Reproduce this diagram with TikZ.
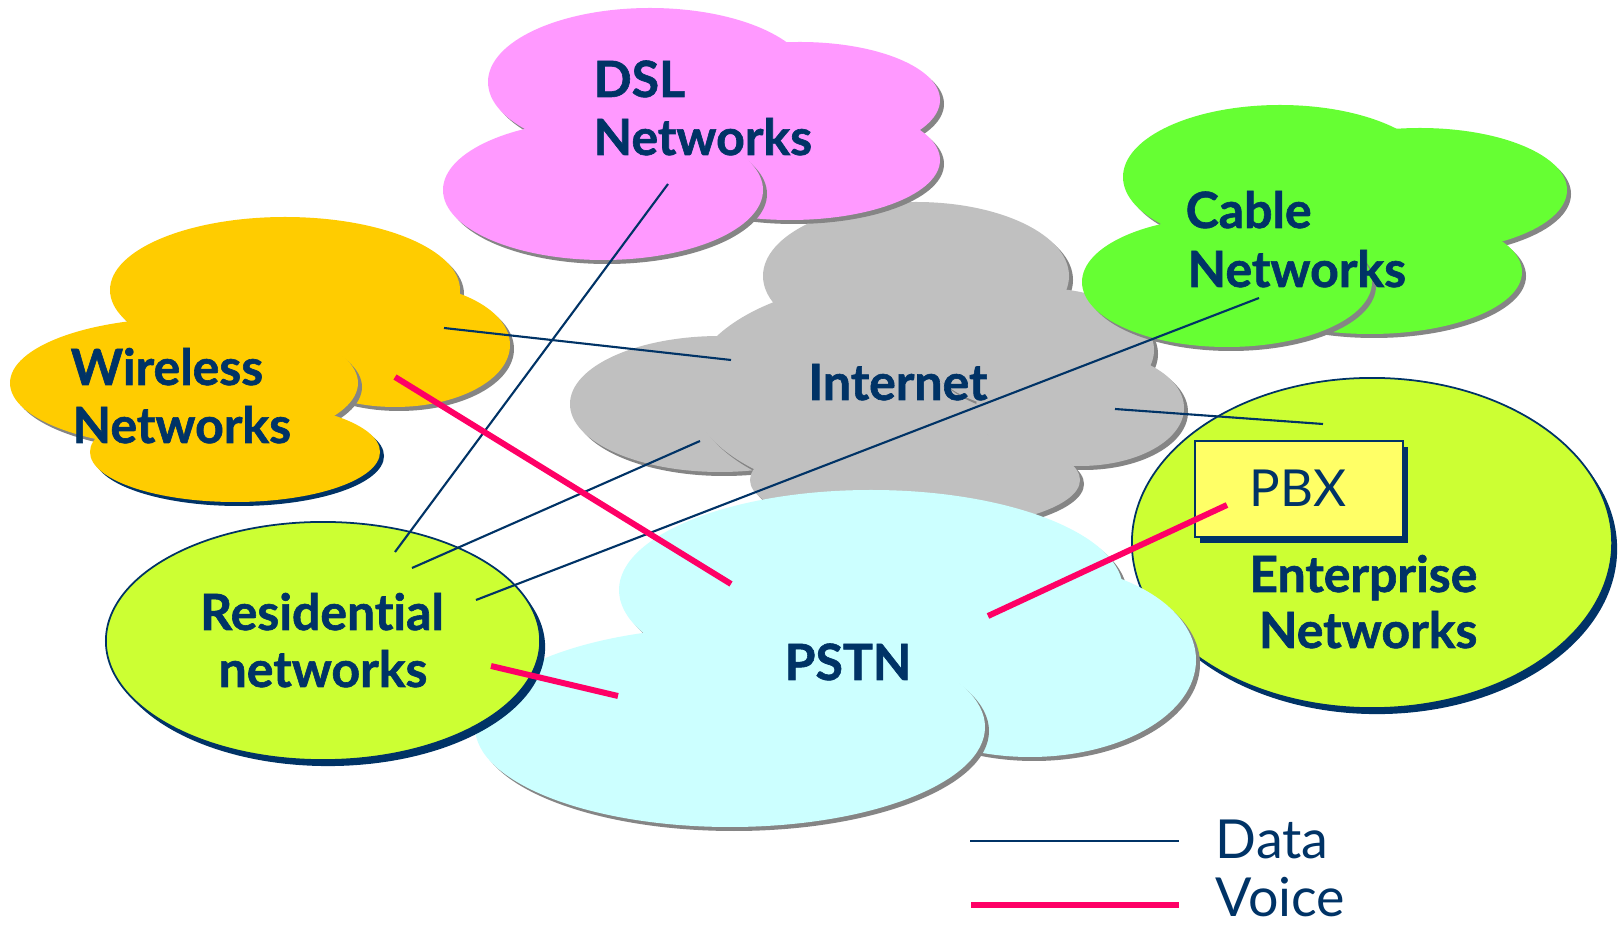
\documentclass[tikz,border=0pt]{standalone}
\usepackage{fontspec}
\setmainfont{Lato}[Ligatures={NoCommon}, BoldFeatures={FakeBold=1.2}]
\definecolor{navy}{HTML}{003366}
\definecolor{voicepink}{HTML}{FF0066}
\definecolor{dslpink}{HTML}{FF99FF}
\definecolor{wirelessyellow}{HTML}{FFCC00}
\definecolor{cablegreen}{HTML}{66FF33}
\definecolor{internetgray}{HTML}{C0C0C0}
\definecolor{limegreen}{HTML}{CCFF33}
\definecolor{pstncyan}{HTML}{CCFFFF}
\definecolor{pbxyellow}{HTML}{FFFF66}
\definecolor{shadowgray}{HTML}{858585}
\newcommand\cloudlobe[6]{%
  \fill[#2] ({#3+4},{#4+4}) ellipse [x radius={#5*0.01cm}, y radius={#6*0.01cm}];
  \fill[#1] (#3,#4) ellipse [x radius={#5*0.01cm}, y radius={#6*0.01cm}];}
\tikzset{
  boldlbl/.style={inner sep=0pt, text=navy, font=\fontsize{14.2}{17}\selectfont\bfseries},
  reglbl/.style={inner sep=0pt, text=navy, font=\fontsize{14.5}{17}\selectfont},
  legendlbl/.style={inner sep=0pt, text=navy, font=\fontsize{15.3}{18}\selectfont},
  dataline/.style={draw=navy, line width=0.6pt},
  voiceline/.style={draw=voicepink, line width=1.7pt},
  ovalnet/.style={fill=limegreen, draw=navy, line width=0.5pt},
}
\begin{document}
\begin{tikzpicture}[x=0.01cm,y=-0.01cm]
\useasboundingbox (0,0) rectangle (1618,925);
\fill[white] (0,0) rectangle (1618,925);

% Enterprise ellipse
\fill[navy] (1377,549) ellipse [x radius=2.40cm, y radius=1.65cm];
\path[ovalnet] (1372,543) ellipse [x radius=2.40cm, y radius=1.65cm];

% Internet cloud
\cloudlobe{internetgray}{shadowgray}{720}{404}{150}{68}
\cloudlobe{internetgray}{shadowgray}{916}{276}{153}{74}
\cloudlobe{internetgray}{shadowgray}{900}{390}{210}{110}
\cloudlobe{internetgray}{shadowgray}{1040}{350}{114}{62}
\cloudlobe{internetgray}{shadowgray}{1080}{408}{104}{58}
\cloudlobe{internetgray}{shadowgray}{915}{480}{165}{50}

% DSL cloud
\cloudlobe{dslpink}{shadowgray}{650}{82}{162}{74}
\cloudlobe{dslpink}{shadowgray}{800}{100}{140}{58}
\cloudlobe{dslpink}{shadowgray}{790}{160}{150}{60}
\cloudlobe{dslpink}{shadowgray}{603}{190}{160}{70}

% Cable cloud
\cloudlobe{cablegreen}{shadowgray}{1280}{177}{157}{72}
\cloudlobe{cablegreen}{shadowgray}{1420}{190}{147}{62}
\cloudlobe{cablegreen}{shadowgray}{1370}{272}{152}{62}
\cloudlobe{cablegreen}{shadowgray}{1227}{282}{145}{65}

% Wireless cloud
\cloudlobe{wirelessyellow}{shadowgray}{285}{290}{175}{73}
\cloudlobe{wirelessyellow}{shadowgray}{395}{345}{115}{62}
\cloudlobe{wirelessyellow}{shadowgray}{184}{383}{174}{65}
\cloudlobe{wirelessyellow}{navy}{235}{452}{145}{50}

% PSTN cloud
\cloudlobe{pstncyan}{shadowgray}{871}{590}{252}{100}
\cloudlobe{pstncyan}{shadowgray}{1030}{660}{166}{97}
\cloudlobe{pstncyan}{shadowgray}{730}{727}{255}{100}

% Residential ellipse
\fill[navy] (328,647) ellipse [x radius=2.17cm, y radius=1.19cm];
\path[ovalnet] (323,641) ellipse [x radius=2.17cm, y radius=1.19cm];

% PBX box
\fill[navy] (1200,447) rectangle (1408,543);
\path[fill=pbxyellow, draw=navy, line width=0.5pt] (1195,441) rectangle (1403,537);

% connector end points
\coordinate (dslD) at (668,184);
\coordinate (resD1) at (395,552);
\coordinate (wirD) at (444,328);
\coordinate (intW) at (731,360);
\coordinate (intR) at (700,441);
\coordinate (resD2) at (412,568);
\coordinate (cabD) at (1259,298);
\coordinate (resD3) at (476,600);
\coordinate (intE) at (1115,409);
\coordinate (entD) at (1323,424);
\coordinate (wirV) at (395,377);
\coordinate (pstnW) at (731,584);
\coordinate (resV) at (491,666);
\coordinate (pstnR) at (618,696);
\coordinate (pstnE) at (988,616);
\coordinate (pbxV) at (1227,505);
\coordinate (legDa) at (970,841);
\coordinate (legDb) at (1179,841);
\coordinate (legVa) at (971,905);
\coordinate (legVb) at (1179,905);

% data lines
\draw[dataline] (dslD) -- (resD1);
\draw[dataline] (wirD) -- (intW);
\draw[dataline] (intR) -- (resD2);
\draw[dataline] (cabD) -- (resD3);
\draw[dataline] (intE) -- (entD);
% voice lines
\draw[voiceline] (wirV) -- (pstnW);
\draw[voiceline] (resV) -- (pstnR);
\draw[voiceline] (pstnE) -- (pbxV);
% legend
\draw[dataline] (legDa) -- (legDb);
\draw[voiceline] (legVa) -- (legVb);

% labels
\node[boldlbl, anchor=base west] (dslA) at (593,97) {DSL};
\node[boldlbl, anchor=base west] (dslB) at (593,155) {Networks};
\node[boldlbl, anchor=base west] (wirA) at (70,385) {Wireless};
\node[boldlbl, anchor=base west] (wirB) at (72,443) {Networks};
\node[boldlbl, anchor=base west] (cabA) at (1185,228) {Cable};
\node[boldlbl, anchor=base west] (cabB) at (1187,287) {Networks};
\node[boldlbl, anchor=base] (inet) at (898,400) {Internet};
\node[boldlbl, anchor=base east] (entA) at (1478,592) {Enterprise};
\node[boldlbl, anchor=base east] (entB) at (1478,648) {Networks};
\node[boldlbl, anchor=base] (resA) at (322,630) {Residential};
\node[boldlbl, anchor=base] (resB) at (323,687) {networks};
\node[boldlbl, anchor=base] (pstn) at (848,680) {PSTN};
\node[reglbl, anchor=base] (pbx) at (1298,507) {PBX};
\node[legendlbl, anchor=base west] (data) at (1215,858) {Data};
\node[legendlbl, anchor=base west] (voice) at (1215,916) {Voice};
\end{tikzpicture}
\end{document}
